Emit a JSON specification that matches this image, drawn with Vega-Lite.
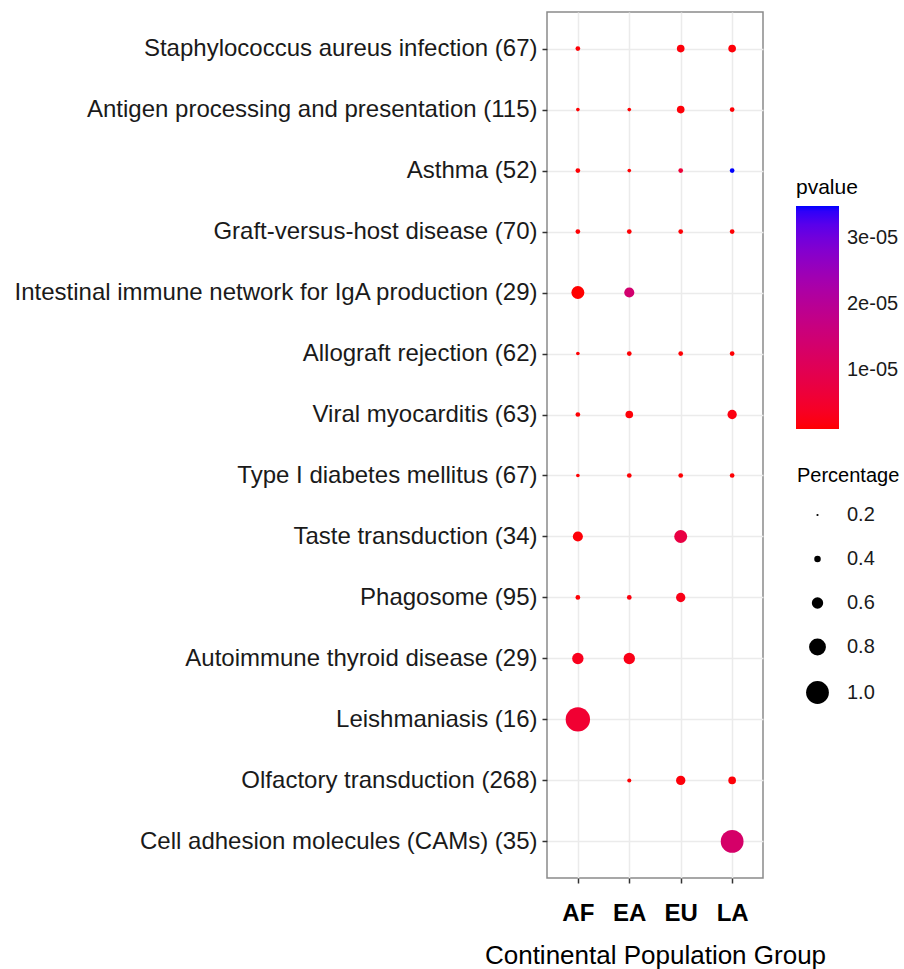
{
  "$schema": "https://vega.github.io/schema/vega-lite/v6.json",
  "width": 216,
  "height": 866,
  "autosize": {"type": "none"},
  "padding": {"left": 547, "top": 12, "right": 141, "bottom": 91},
  "background": "white",
  "config": {
    "font": "Liberation Sans",
    "view": {"stroke": "#8A8A8A", "strokeWidth": 1.5},
    "axis": {"domain": false, "gridColor": "#EBEBEB", "gridWidth": 1.5, "tickColor": "#333333", "tickWidth": 1.5, "tickSize": 5}
  },
  "data": {"values": [
    {"pathway": "Staphylococcus aureus infection (67)", "group": "AF", "Percentage": 0.32, "pvalue": 1.4e-06},
    {"pathway": "Staphylococcus aureus infection (67)", "group": "EU", "Percentage": 0.45, "pvalue": 1.6e-06},
    {"pathway": "Staphylococcus aureus infection (67)", "group": "LA", "Percentage": 0.45, "pvalue": 1.5e-06},
    {"pathway": "Antigen processing and presentation (115)", "group": "AF", "Percentage": 0.27, "pvalue": 1.2e-06},
    {"pathway": "Antigen processing and presentation (115)", "group": "EA", "Percentage": 0.27, "pvalue": 1.2e-06},
    {"pathway": "Antigen processing and presentation (115)", "group": "EU", "Percentage": 0.45, "pvalue": 1.5e-06},
    {"pathway": "Antigen processing and presentation (115)", "group": "LA", "Percentage": 0.32, "pvalue": 1.3e-06},
    {"pathway": "Asthma (52)", "group": "AF", "Percentage": 0.32, "pvalue": 1.3e-06},
    {"pathway": "Asthma (52)", "group": "EA", "Percentage": 0.27, "pvalue": 1.2e-06},
    {"pathway": "Asthma (52)", "group": "EU", "Percentage": 0.32, "pvalue": 6e-06},
    {"pathway": "Asthma (52)", "group": "LA", "Percentage": 0.32, "pvalue": 3.48e-05},
    {"pathway": "Graft-versus-host disease (70)", "group": "AF", "Percentage": 0.32, "pvalue": 1.3e-06},
    {"pathway": "Graft-versus-host disease (70)", "group": "EA", "Percentage": 0.32, "pvalue": 1.3e-06},
    {"pathway": "Graft-versus-host disease (70)", "group": "EU", "Percentage": 0.32, "pvalue": 1.4e-06},
    {"pathway": "Graft-versus-host disease (70)", "group": "LA", "Percentage": 0.32, "pvalue": 1.3e-06},
    {"pathway": "Intestinal immune network for IgA production (29)", "group": "AF", "Percentage": 0.66, "pvalue": 1.06e-06},
    {"pathway": "Intestinal immune network for IgA production (29)", "group": "EA", "Percentage": 0.55, "pvalue": 1.4e-05},
    {"pathway": "Allograft rejection (62)", "group": "AF", "Percentage": 0.27, "pvalue": 1.2e-06},
    {"pathway": "Allograft rejection (62)", "group": "EA", "Percentage": 0.32, "pvalue": 1.3e-06},
    {"pathway": "Allograft rejection (62)", "group": "EU", "Percentage": 0.32, "pvalue": 1.3e-06},
    {"pathway": "Allograft rejection (62)", "group": "LA", "Percentage": 0.32, "pvalue": 1.3e-06},
    {"pathway": "Viral myocarditis (63)", "group": "AF", "Percentage": 0.32, "pvalue": 1.3e-06},
    {"pathway": "Viral myocarditis (63)", "group": "EA", "Percentage": 0.45, "pvalue": 1.5e-06},
    {"pathway": "Viral myocarditis (63)", "group": "LA", "Percentage": 0.52, "pvalue": 2e-06},
    {"pathway": "Type I diabetes mellitus (67)", "group": "AF", "Percentage": 0.27, "pvalue": 1.2e-06},
    {"pathway": "Type I diabetes mellitus (67)", "group": "EA", "Percentage": 0.32, "pvalue": 1.3e-06},
    {"pathway": "Type I diabetes mellitus (67)", "group": "EU", "Percentage": 0.32, "pvalue": 1.3e-06},
    {"pathway": "Type I diabetes mellitus (67)", "group": "LA", "Percentage": 0.32, "pvalue": 1.3e-06},
    {"pathway": "Taste transduction (34)", "group": "AF", "Percentage": 0.55, "pvalue": 1.5e-06},
    {"pathway": "Taste transduction (34)", "group": "EU", "Percentage": 0.66, "pvalue": 7.8e-06},
    {"pathway": "Phagosome (95)", "group": "AF", "Percentage": 0.32, "pvalue": 1.3e-06},
    {"pathway": "Phagosome (95)", "group": "EA", "Percentage": 0.32, "pvalue": 1.8e-06},
    {"pathway": "Phagosome (95)", "group": "EU", "Percentage": 0.52, "pvalue": 2.5e-06},
    {"pathway": "Autoimmune thyroid disease (29)", "group": "AF", "Percentage": 0.6, "pvalue": 3e-06},
    {"pathway": "Autoimmune thyroid disease (29)", "group": "EA", "Percentage": 0.6, "pvalue": 2.5e-06},
    {"pathway": "Leishmaniasis (16)", "group": "AF", "Percentage": 1.05, "pvalue": 5.4e-06},
    {"pathway": "Olfactory transduction (268)", "group": "EA", "Percentage": 0.29, "pvalue": 1.3e-06},
    {"pathway": "Olfactory transduction (268)", "group": "EU", "Percentage": 0.52, "pvalue": 1.6e-06},
    {"pathway": "Olfactory transduction (268)", "group": "LA", "Percentage": 0.45, "pvalue": 1.5e-06},
    {"pathway": "Cell adhesion molecules (CAMs) (35)", "group": "LA", "Percentage": 1.0, "pvalue": 1.32e-05}
  ]},
  "mark": {"type": "circle", "opacity": 1},
  "encoding": {
    "x": {
      "field": "group", "type": "nominal", "sort": ["AF", "EA", "EU", "LA"],
      "scale": {"type": "point", "padding": 0.6},
      "axis": {"title": "Continental Population Group", "labelAngle": 0, "labelFontSize": 24, "labelFontWeight": "bold", "labelColor": "black", "labelPadding": 18, "titleFontSize": 26, "titleFontWeight": "normal", "titlePadding": 17, "titleColor": "black", "grid": true}
    },
    "y": {
      "field": "pathway", "type": "nominal",
      "sort": ["Staphylococcus aureus infection (67)", "Antigen processing and presentation (115)", "Asthma (52)", "Graft-versus-host disease (70)", "Intestinal immune network for IgA production (29)", "Allograft rejection (62)", "Viral myocarditis (63)", "Type I diabetes mellitus (67)", "Taste transduction (34)", "Phagosome (95)", "Autoimmune thyroid disease (29)", "Leishmaniasis (16)", "Olfactory transduction (268)", "Cell adhesion molecules (CAMs) (35)"],
      "scale": {"type": "point", "padding": 0.6},
      "axis": {"title": null, "labelFontSize": 24, "labelPadding": 5, "labelColor": "#1a1a1a", "labelLimit": 700, "grid": true}
    },
    "size": {
      "field": "Percentage", "type": "quantitative",
      "scale": {"type": "pow", "exponent": 2.7, "domain": [0.2, 1.0], "range": [5, 519]},
      "legend": {"orient": "none", "legendX": 250, "legendY": 454, "values": [0.2, 0.4, 0.6, 0.8, 1.0], "format": ".1f", "symbolType": "circle", "symbolFillColor": "black", "symbolStrokeWidth": 0, "symbolOpacity": 1, "symbolOffset": 9, "titleFontSize": 20, "titleFontWeight": "normal", "titleColor": "black", "labelFontSize": 20, "labelColor": "#1a1a1a", "labelOffset": 18, "rowPadding": 24, "titlePadding": 19}
    },
    "color": {
      "field": "pvalue", "type": "quantitative",
      "scale": {"domain": [1.06e-06, 3.48e-05], "range": ["#FF0000", "#0000FF"], "interpolate": "lab", "nice": false, "zero": false},
      "legend": {"orient": "none", "legendX": 249, "legendY": 165, "direction": "vertical", "gradientLength": 223, "gradientThickness": 43, "gradientStrokeWidth": 0, "values": [1e-05, 2e-05, 3e-05], "labelExpr": "replace(format(datum.value, '.0e'), 'e-', 'e-0')", "titleFontSize": 21, "titleFontWeight": "normal", "titleColor": "black", "labelFontSize": 20, "labelColor": "#1a1a1a", "labelOffset": 8, "titlePadding": 8}
    }
  }
}
